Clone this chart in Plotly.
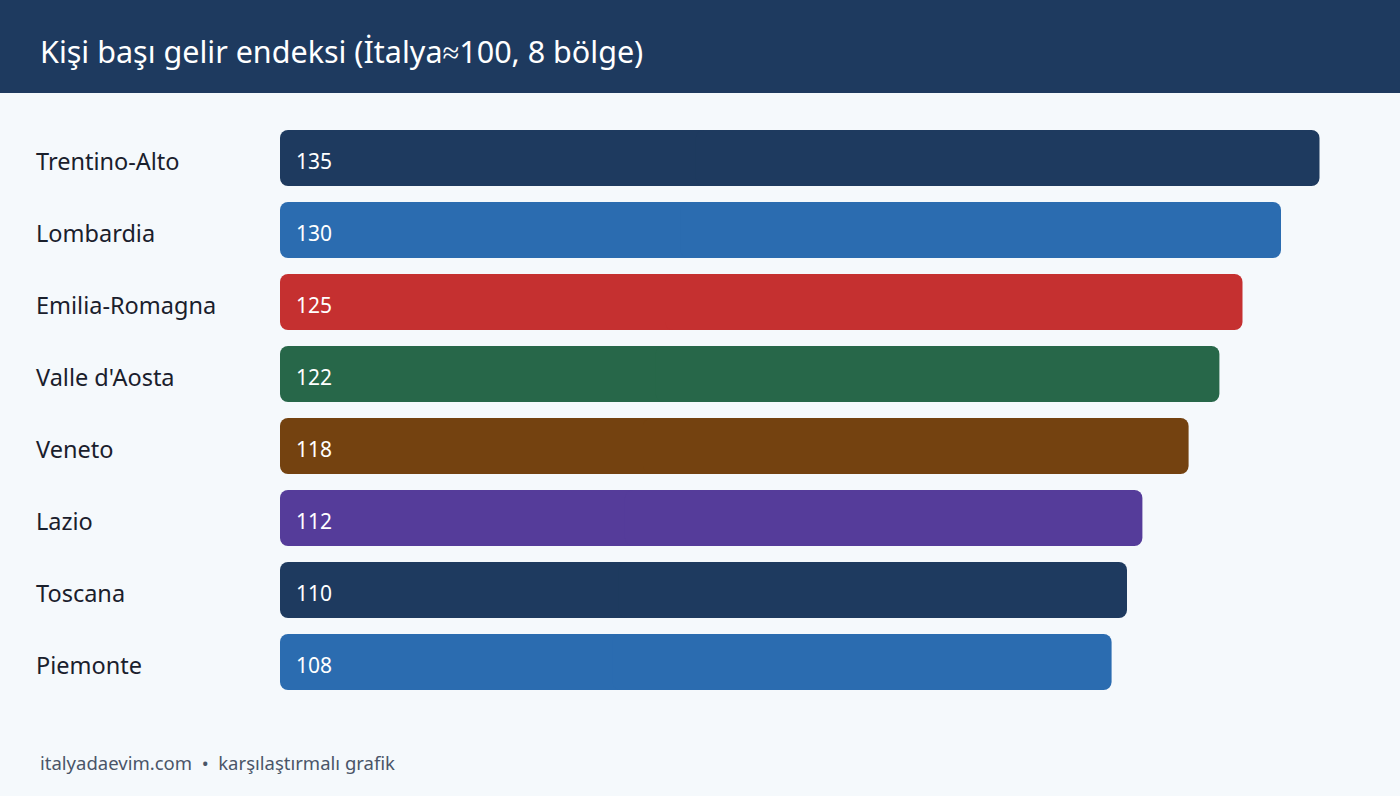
import plotly.graph_objects as go

regions = ["Trentino-Alto", "Lombardia", "Emilia-Romagna", "Valle d'Aosta",
           "Veneto", "Lazio", "Toscana", "Piemonte"]
index_values = [135, 130, 125, 122, 118, 112, 110, 108]
bar_colors = ["#1e3a5f", "#2b6cb0", "#c53030", "#276749",
              "#744210", "#553c9a", "#1e3a5f", "#2b6cb0"]

title_text = "Kişi başı gelir endeksi (İtalya≈100, 8 bölge)"
footer_text = "italyadaevim.com  •  karşılaştırmalı grafik"

W, H = 1400, 796
ML, MR, MT, MB = 280, 42, 122, 98
PW = W - ML - MR
PH = H - MT - MB
FONT = "Noto Sans"

# plotly only rounds the far end of a bar, so each bar is drawn as two
# overlapping halves growing away from a common middle
left_base = [v * 0.6 for v in index_values]
left_len = [-v * 0.6 for v in index_values]
right_base = [v * 0.4 for v in index_values]
right_len = [v * 0.6 for v in index_values]

fig = go.Figure()
fig.add_trace(go.Bar(
    x=left_len, base=left_base, y=regions, orientation="h",
    marker=dict(color=bar_colors, line=dict(width=0)), hoverinfo="skip",
))
fig.add_trace(go.Bar(
    x=right_len, base=right_base, y=regions, orientation="h",
    marker=dict(color=bar_colors, line=dict(width=0)), hoverinfo="skip",
))

annotations = []
for name, val in zip(regions, index_values):
    annotations.append(dict(
        x=-(ML - 34) / PW, xref="paper", y=name, yref="y", yshift=-3,
        text=name, showarrow=False, xanchor="left", yanchor="middle",
        font=dict(family=FONT, size=23.5, color="#1a202c"),
    ))
    annotations.append(dict(
        x=0, xref="x", y=name, yref="y", xshift=14, yshift=-3,
        text=str(val), showarrow=False, xanchor="left", yanchor="middle",
        font=dict(family=FONT, size=21, color="#ffffff"),
    ))

# title in the header band
annotations.append(dict(
    x=-(ML - 38) / PW, xref="paper", y=1 + (MT - 51) / PH, yref="paper",
    text=title_text, showarrow=False, xanchor="left", yanchor="middle",
    font=dict(family=FONT, size=30.5, color="#ffffff"),
))
# footer
annotations.append(dict(
    x=-(ML - 38) / PW, xref="paper", y=-(762 - (H - MB)) / PH, yref="paper",
    text=footer_text, showarrow=False, xanchor="left", yanchor="middle",
    font=dict(family=FONT, size=18.5, color="#4a5568"),
))

fig.update_layout(
    width=W, height=H,
    margin=dict(l=ML, r=MR, t=MT, b=MB, pad=0),
    paper_bgcolor="#f5f9fc",
    plot_bgcolor="#f5f9fc",
    showlegend=False,
    barmode="overlay",
    bargap=16 / 72,
    barcornerradius=8,
    xaxis=dict(range=[0, 140], visible=False, fixedrange=True),
    yaxis=dict(autorange="reversed", visible=False, fixedrange=True),
    shapes=[dict(
        type="rect", xref="paper", yref="paper", layer="below",
        x0=-ML / PW - 0.05, x1=1 + MR / PW + 0.05,
        y0=1 + (MT - 93) / PH, y1=1 + MT / PH + 0.05,
        fillcolor="#1e3a5f", line=dict(width=0),
    )],
    annotations=annotations,
)

fig.write_html("out.html", config={"displayModeBar": False},
               post_script="document.body.style.margin='0';")
